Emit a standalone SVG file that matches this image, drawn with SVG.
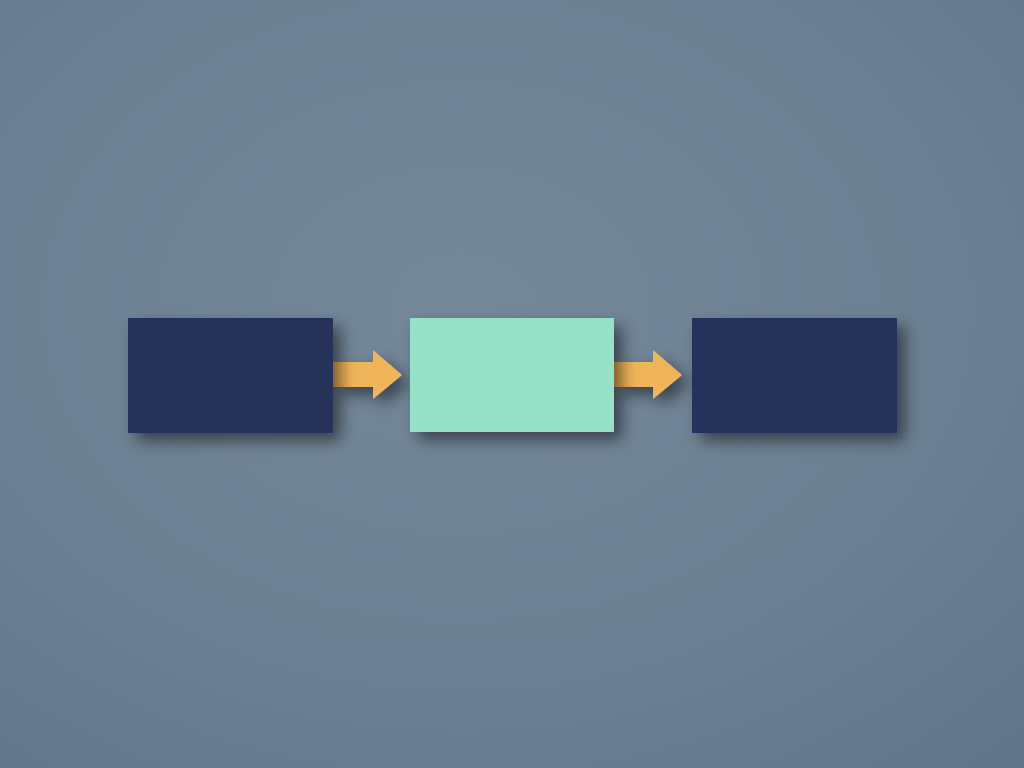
<svg xmlns="http://www.w3.org/2000/svg" width="1024" height="768" viewBox="0 0 1024 768">
<defs>
<radialGradient id="bg" cx="0.45" cy="0.4" r="0.8">
<stop offset="0" stop-color="#74889a"/>
<stop offset="0.6" stop-color="#6c8093"/>
<stop offset="1" stop-color="#617588"/>
</radialGradient>
<filter id="sh" x="-20%" y="-30%" width="150%" height="180%">
<feGaussianBlur in="SourceAlpha" stdDeviation="8"/>
<feOffset dx="8" dy="8" result="b"/>
<feComponentTransfer><feFuncA type="linear" slope="0.5"/></feComponentTransfer>
<feMerge><feMergeNode/><feMergeNode in="SourceGraphic"/></feMerge>
</filter>
<style>
.navy{fill:#26305a}
.mint{fill:#96e2c9}
.arrow{fill:#f0b55a}
</style>
</defs>
<rect width="1024" height="768" fill="url(#bg)"/>
<g id="connectors" filter="url(#sh)">
<polygon class="arrow" points="333,362 373,362 373,350 402,375 373,399 373,387 333,387"/>
<polygon class="arrow" points="614,362 653,362 653,350 682,375 653,399 653,387 614,387"/>
</g>
<g id="node1" filter="url(#sh)"><rect class="navy" x="128" y="318" width="205" height="115"/></g>
<g id="node2" filter="url(#sh)"><rect class="mint" x="410" y="318" width="204" height="114"/></g>
<g id="node3" filter="url(#sh)"><rect class="navy" x="692" y="318" width="205" height="115"/></g>
</svg>
